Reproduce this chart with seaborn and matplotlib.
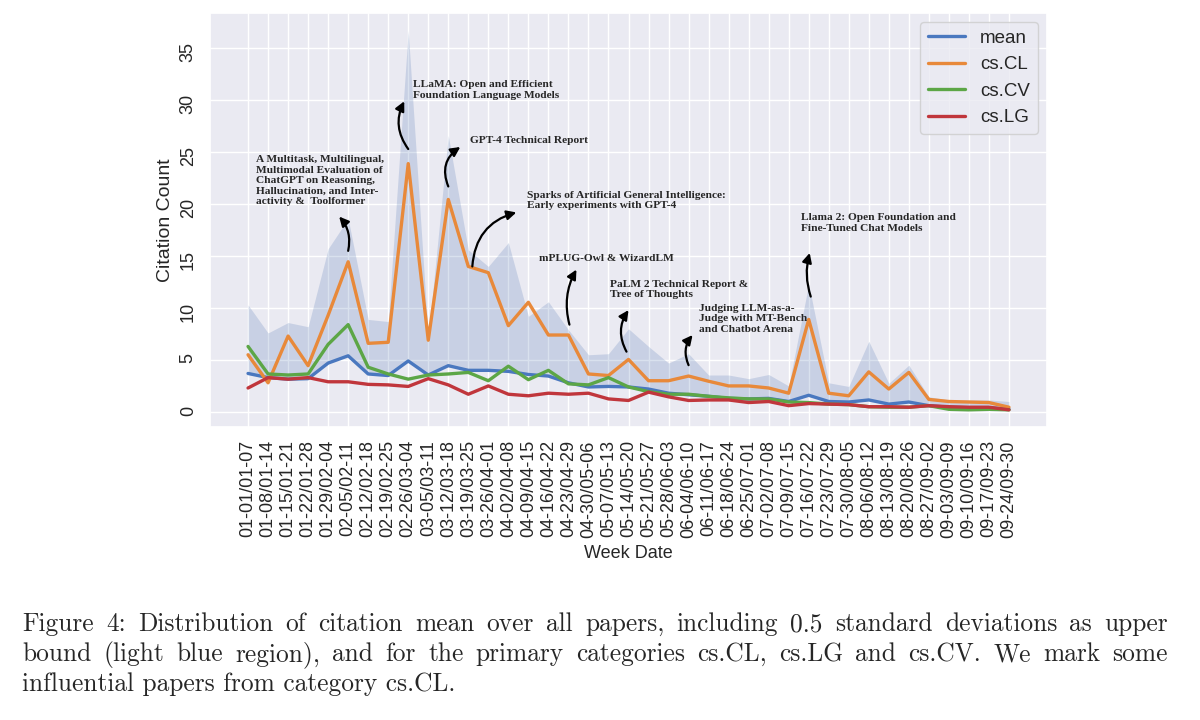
import pandas as pd
import matplotlib
matplotlib.use("Agg")
import matplotlib.pyplot as plt
import seaborn as sns

# Week labels (39 weeks of 2023)
weeks = [
    "01-01/01-07", "01-08/01-14", "01-15/01-21", "01-22/01-28", "01-29/02-04",
    "02-05/02-11", "02-12/02-18", "02-19/02-25", "02-26/03-04", "03-05/03-11",
    "03-12/03-18", "03-19/03-25", "03-26/04-01", "04-02/04-08", "04-09/04-15",
    "04-16/04-22", "04-23/04-29", "04-30/05-06", "05-07/05-13", "05-14/05-20",
    "05-21/05-27", "05-28/06-03", "06-04/06-10", "06-11/06-17", "06-18/06-24",
    "06-25/07-01", "07-02/07-08", "07-09/07-15", "07-16/07-22", "07-23/07-29",
    "07-30/08-05", "08-06/08-12", "08-13/08-19", "08-20/08-26", "08-27/09-02",
    "09-03/09-09", "09-10/09-16", "09-17/09-23", "09-24/09-30",
]

# Citation counts
mean_all = [3.7, 3.3, 3.15, 3.2, 4.7, 5.4, 3.65, 3.5, 4.9, 3.55,
            4.45, 4.0, 4.0, 3.9, 3.6, 3.45, 2.8, 2.4, 2.45, 2.4,
            2.2, 1.8, 1.65, 1.5, 1.3, 1.25, 1.3, 1.0, 1.6, 1.0,
            0.95, 1.15, 0.75, 0.95, 0.6, 0.45, 0.4, 0.4, 0.25]
upper_bound = [10.3, 7.6, 8.6, 8.2, 15.7, 18.6, 8.9, 8.7, 36.7, 7.2,
               26.6, 15.6, 14.0, 16.3, 9.2, 10.6, 7.9, 5.5, 5.6, 8.0,
               6.3, 4.7, 5.6, 3.55, 3.55, 3.2, 3.6, 2.5, 12.3, 2.8,
               2.45, 6.8, 2.75, 4.5, 1.45, 1.15, 1.15, 1.15, 1.0]
cs_cl = [5.5, 2.8, 7.3, 4.45, 9.3, 14.45, 6.6, 6.7, 23.9, 6.9,
         20.45, 14.0, 13.4, 8.3, 10.55, 7.4, 7.4, 3.65, 3.5, 5.05,
         3.0, 3.0, 3.45, 2.95, 2.5, 2.5, 2.3, 1.8, 8.9, 1.8,
         1.55, 3.85, 2.2, 3.8, 1.2, 1.0, 0.95, 0.9, 0.45]
cs_cv = [6.3, 3.65, 3.55, 3.65, 6.5, 8.4, 4.3, 3.65, 3.15, 3.55,
         3.65, 3.8, 3.0, 4.4, 3.1, 4.0, 2.7, 2.6, 3.3, 2.4,
         1.95, 1.7, 1.7, 1.5, 1.35, 1.25, 1.25, 0.95, 0.9, 0.75,
         0.7, 0.5, 0.45, 0.45, 0.6, 0.25, 0.2, 0.25, 0.2]
cs_lg = [2.3, 3.3, 3.15, 3.3, 2.9, 2.9, 2.65, 2.6, 2.45, 3.2,
         2.6, 1.7, 2.5, 1.7, 1.55, 1.8, 1.7, 1.8, 1.25, 1.1,
         1.9, 1.45, 1.1, 1.15, 1.15, 0.9, 1.0, 0.6, 0.8, 0.75,
         0.7, 0.5, 0.5, 0.45, 0.6, 0.5, 0.45, 0.45, 0.2]

series_names = ["mean", "cs.CL", "cs.CV", "cs.LG"]
colors = {"mean": "#4A78BF", "cs.CL": "#E8893A", "cs.CV": "#5CA646", "cs.LG": "#C0363C"}

# Marked papers: text, text anchor (week idx, value), arrow tail, arrow head, curvature
papers = [
    ("A Multitask, Multilingual,\nMultimodal Evaluation of\nChatGPT on Reasoning,\n"
     "Hallucination, and Inter-\nactivity &  Toolformer", (0.4, 24.7), (5.0, 15.5), (4.55, 18.8), 0.25),
    ("LLaMA: Open and Efficient\nFoundation Language Models", (8.25, 31.9), (8.0, 25.3), (7.8, 29.9), -0.3),
    ("GPT-4 Technical Report", (11.1, 26.6), (10.0, 21.7), (10.6, 25.5), -0.4),
    ("Sparks of Artificial General Intelligence:\nEarly experiments with GPT-4", (13.95, 21.3), (11.2, 14.0), (13.4, 19.2), -0.35),
    ("mPLUG-Owl & WizardLM", (14.55, 15.2), (16.05, 8.4), (16.4, 13.7), -0.2),
    ("PaLM 2 Technical Report &\nTree of Thoughts", (18.1, 12.7), (18.9, 5.8), (19.0, 9.8), -0.3),
    ("Judging LLM-as-a-\nJudge with MT-Bench\nand Chatbot Arena", (22.5, 10.4), (22.0, 4.5), (22.2, 7.4), -0.3),
    ("Llama 2: Open Foundation and\nFine-Tuned Chat Models", (27.6, 19.1), (28.1, 11.1), (28.05, 15.3), -0.15),
]

caption_lines = [
    "Figure 4: Distribution of citation mean over all papers, including 0.5 standard deviations as upper",
    "bound (light blue region), and for the primary categories cs.CL, cs.LG and cs.CV. We mark some",
    "influential papers from category cs.CL.",
]

# Long-form frame for seaborn
idx = list(range(len(weeks)))
df = pd.concat([
    pd.DataFrame({"week": idx, "citations": vals, "category": name})
    for name, vals in zip(series_names, [mean_all, cs_cl, cs_cv, cs_lg])
])

sns.set_theme(style="darkgrid")
plt.rcParams["font.family"] = ["Liberation Sans", "DejaVu Sans"]

fig = plt.figure(figsize=(12, 7.2), dpi=100)
ax = fig.add_axes([0.175, 0.407, 0.6975, 0.575])

ax.fill_between(idx, mean_all, upper_bound, color="#4C72B0", alpha=0.21, linewidth=0)
sns.lineplot(data=df, x="week", y="citations", hue="category", hue_order=series_names,
             palette=colors, linewidth=2.4, ax=ax)

for text, (tx, ty), tail, head, rad in papers:
    ax.text(tx, ty, text, family="Liberation Serif", weight="bold", fontsize=8.2,
            ha="left", va="top", linespacing=1.2)
    ax.annotate("", xy=head, xytext=tail,
                arrowprops=dict(arrowstyle="-|>", color="black", lw=1.6,
                                mutation_scale=14, shrinkA=0, shrinkB=0,
                                connectionstyle=f"arc3,rad={rad}"))

ax.set_xlim(-1.9, len(weeks) - 1 + 1.9)
ax.set_ylim(-1.45, 38.4)
ax.set_xticks(idx)
ax.set_xticklabels(weeks, rotation=90, fontsize=13)
ax.set_yticks(range(0, 36, 5))
ax.tick_params(axis="y", labelrotation=90, labelsize=13)
ax.set_xlabel("Week Date", fontsize=13, labelpad=5)
ax.set_ylabel("Citation Count", fontsize=14)

handles, labels = ax.get_legend_handles_labels()
ax.legend(handles, labels, loc="upper right", fontsize=13.5, title=None)

# Caption, justified like the LaTeX original (last line left aligned)
renderer = fig.canvas.get_renderer()
left_px, right_px = 22, 1168
cap_font = dict(family=["cmr10", "DejaVu Serif"], fontsize=18.3, ha="left", va="baseline")
for i, line in enumerate(caption_lines):
    y = 1 - (631 + 30 * i) / 720
    words = line.split(" ")
    if i == len(caption_lines) - 1:
        fig.text(left_px / 1200, y, line, **cap_font)
        continue
    items = [fig.text(0, y, w, **cap_font) for w in words]
    widths = [t.get_window_extent(renderer).width for t in items]
    gap = (right_px - left_px - sum(widths)) / (len(words) - 1)
    x = left_px
    for t, w in zip(items, widths):
        t.set_x(x / 1200)
        x += w + gap

fig.savefig("out.png", dpi=100)
